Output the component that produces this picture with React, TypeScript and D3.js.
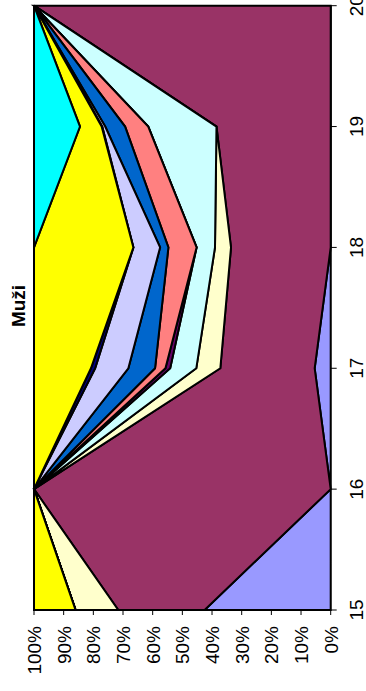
import React from "react";
import * as d3 from "d3";

const categories = [15, 16, 17, 18, 19, 20];
const seriesNames = ["s1", "s2", "s3", "s4", "s5", "s6", "s7", "s8", "s9", "s10", "s11"];
const seriesColors = ["#9999FF", "#993366", "#FFFFCC", "#CCFFFF", "#660066", "#FF8080", "#0066CC", "#CCCCFF", "#000080", "#FFFF00", "#00FFFF"];
const s1 = [42.5, 0, 5.4, 0, 0, 0];
const s2 = [29.1, 100, 31.8, 33.6, 38.5, 100];
const s3 = [14.4, 0, 8.1, 5.4, 0, 0];
const s4 = [0, 0, 8.8, 6.2, 23.0, 0];
const s5 = [0, 0, 1.6, 0, 0, 0];
const s6 = [0, 0, 3.5, 9.5, 7.8, 0];
const s7 = [0, 0, 9.0, 2.8, 6.7, 0];
const s8 = [0, 0, 11.2, 9.0, 1.0, 0];
const s9 = [0, 0, 1.4, 0, 0.2, 0];
const s10 = [14.0, 0, 19.2, 33.5, 7.3, 0];
const s11 = [0, 0, 0, 0, 15.5, 0];
const seriesValues = [s1, s2, s3, s4, s5, s6, s7, s8, s9, s10, s11];
const percentTicks = [0, 0.1, 0.2, 0.3, 0.4, 0.5, 0.6, 0.7, 0.8, 0.9, 1];
const title = "Muži";

export default function App() {
  const left = 34, right = 330.7, top = 5.7, bottom = 610;
  const xP = d3.scaleLinear().domain([0, 1]).range([right, left]);
  const yC = d3.scaleLinear().domain([15, 20]).range([bottom, top]);

  const rows = categories.map((c, i) => {
    const r: any = { cat: c };
    seriesNames.forEach((n, k) => (r[n] = seriesValues[k][i]));
    return r;
  });
  const stack = d3.stack<any>().keys(seriesNames).offset(d3.stackOffsetExpand);
  const layers = stack(rows);
  const area = d3
    .area<any>()
    .y((d) => yC(d.data.cat))
    .x0((d) => xP(d[0]))
    .x1((d) => xP(d[1]));

  const font = "'Liberation Sans', Arial, sans-serif";
  return (
    <svg width={366} height={691} style={{ position: "absolute", left: 0, top: 0, background: "#fff" }}>
      {layers.map((l, k) => (
        <path key={k} d={area(l) || ""} fill={seriesColors[k]} stroke="#000" strokeWidth={2} strokeLinejoin="miter" />
      ))}
      <line x1={right} x2={right} y1={top} y2={bottom} stroke="#000" strokeWidth={1} />
      <line x1={left} x2={right} y1={bottom} y2={bottom} stroke="#000" strokeWidth={1} />
      {percentTicks.map((t) => (
        <g key={t}>
          <line x1={xP(t)} x2={xP(t)} y1={bottom} y2={bottom + 5} stroke="#000" />
          <text
            transform={`translate(${xP(t) + 7},${bottom + 16}) rotate(-90)`}
            textAnchor="end"
            fontFamily={font}
            fontSize={19}
            fill="#000"
          >
            {d3.format(".0%")(t)}
          </text>
        </g>
      ))}
      {categories.map((c) => (
        <g key={c}>
          <line x1={right} x2={right + 6} y1={yC(c)} y2={yC(c)} stroke="#000" />
          <text
            transform={`translate(${right + 32},${yC(c)}) rotate(-90)`}
            textAnchor="middle"
            fontFamily={font}
            fontSize={19}
            fill="#000"
          >
            {c}
          </text>
        </g>
      ))}
      <text
        transform={`translate(25,306) rotate(-90)`}
        textAnchor="middle"
        fontFamily={font}
        fontSize={19}
        fontWeight="bold"
        fill="#000"
      >
        {title}
      </text>
    </svg>
  );
}
